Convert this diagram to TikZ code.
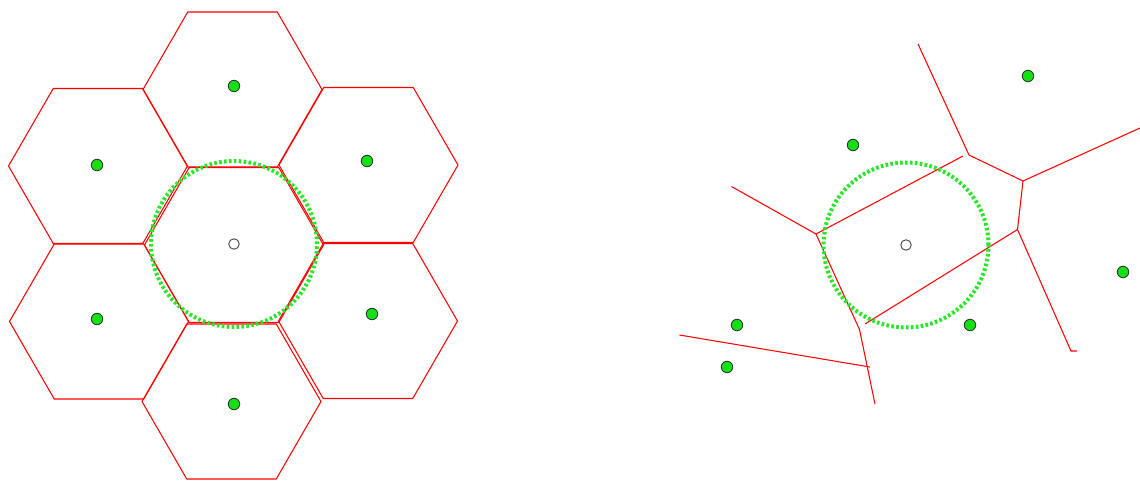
\documentclass[tikz,border=0pt]{standalone}
\usetikzlibrary{positioning}

\definecolor{seedgreen}{RGB}{20,225,20}
\definecolor{reachgreen}{RGB}{40,230,40}

\begin{document}
\begin{tikzpicture}[
    x=0.02cm, y=-0.02cm,
    cell/.style={draw=red, line width=0.6pt, line join=miter},
    seed/.style={circle, draw=black!80, fill=seedgreen, line width=0.5pt, inner sep=0pt, minimum size=0.23cm},
    site/.style={circle, draw=black!75, fill=white, line width=0.5pt, inner sep=0pt, minimum size=0.21cm},
    reach/.style={draw=reachgreen, line width=2.3pt, dash pattern=on 1.5pt off 1.3pt}
]
\useasboundingbox (0,0) rectangle (1140,481);

% left: hexagonal cells
\foreach \cx/\cy in {234/245, 232.5/89.5, 98/166, 368.5/165, 99/321.5, 368/321, 231.5/401.5}
  \draw[cell, shift={(\cx,\cy)}] (0:89.5) -- (60:89.5) -- (120:89.5) -- (180:89.5) -- (240:89.5) -- (300:89.5) -- cycle;

\draw[reach] (234,244) circle (1.66cm);
\node[site] (c1) at (234,244) {};
\node[seed] (n1) at (234,86) {};
\node[seed] (n2) at (97,165) {};
\node[seed] (n3) at (367,161) {};
\node[seed] (n4) at (97,319) {};
\node[seed] (n5) at (372,314) {};
\node[seed] (n6) at (234,404) {};

% right: irregular cells
\coordinate (v1) at (969,155);
\coordinate (v2) at (1023,181);
\coordinate (v3) at (1017.5,229.5);
\coordinate (v4) at (816,234);
\coordinate (v5) at (859.5,329.5);
\draw[cell] (918,44) -- (v1) -- (v2) -- (1140,128);
\draw[cell] (v2) -- (v3) -- (1071,351) -- (1077,351);
\draw[cell] (v3) -- (865,324);
\draw[cell] (963,156) -- (v4) -- (731.5,186.5);
\draw[cell] (v4) -- (v5) -- (875,404);
\draw[cell] (679.5,335) -- (870,367);

\draw[reach] (906,245) circle (1.65cm);
\node[site] (c2) at (906,245) {};
\node[seed] (m1) at (1028,76) {};
\node[seed] (m2) at (853,145) {};
\node[seed] (m3) at (1123,272) {};
\node[seed] (m4) at (970,325) {};
\node[seed] (m5) at (737,325) {};
\node[seed] (m6) at (727,367) {};
\end{tikzpicture}
\end{document}
